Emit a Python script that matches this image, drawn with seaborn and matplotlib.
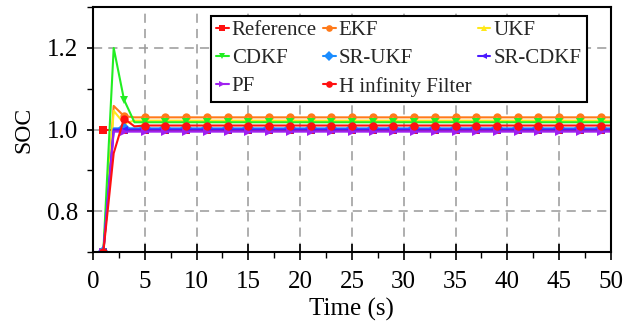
import matplotlib
matplotlib.use("Agg")
import matplotlib.pyplot as plt
import seaborn as sns
from matplotlib.ticker import MultipleLocator

# ---- Dados ----
tempo = list(range(1, 51))
referencia = [1.0] * 50
ekf = [0.70, 1.058, 1.033, 1.030] + [1.030] * 46
ukf = [0.70, 1.046, 1.015, 1.022] + [1.022] * 46
cdkf = [0.70, 1.200, 1.073, 1.018] + [1.018] * 46
sr_ukf = [0.70, 1.003, 1.003, 1.003] + [1.003] * 46
sr_cdkf = [0.70, 1.000, 1.000, 1.000] + [1.000] * 46
pf = [0.70, 0.995, 0.995, 0.995] + [0.995] * 46
h_inf = [0.70, 0.942, 1.027, 1.008] + [1.010] * 46

series = [
    ("Reference", referencia, "#ff1010", "s"),
    ("EKF", ekf, "#ff7a1a", "o"),
    ("UKF", ukf, "#ffe81a", "^"),
    ("CDKF", cdkf, "#22ee22", "v"),
    ("SR-UKF", sr_ukf, "#1a8cff", "D"),
    ("SR-CDKF", sr_cdkf, "#4a1aff", "<"),
    ("PF", pf, "#a020f0", ">"),
    ("H infinity Filter", h_inf, "#ff1010", "o"),
]

sns.set_theme(style="ticks")
plt.rcParams["font.family"] = ["Liberation Serif", "DejaVu Serif"]

fig = plt.figure(figsize=(6.24, 3.24), dpi=100)
ax = fig.add_axes([0.149, 0.222, 0.83, 0.756])

for nome, valores, cor, marcador in series:
    sns.lineplot(x=tempo, y=valores, ax=ax, color=cor, marker=marcador,
                 markersize=6, markeredgewidth=0, markevery=2, linewidth=1.5,
                 label=nome)

ax.set_xlim(0, 50)
ax.set_ylim(0.7, 1.3)
ax.xaxis.set_major_locator(MultipleLocator(5))
ax.xaxis.set_minor_locator(MultipleLocator(2.5))
ax.set_yticks([0.8, 1.0, 1.2])
ax.yaxis.set_minor_locator(MultipleLocator(0.1))
ax.set_yticklabels(["0.8", "1.0", "1.2"])

ax.grid(True, which="major", color="#999999", linestyle=(0, (6, 4)), linewidth=1.1)
ax.set_axisbelow(True)

for sp in ax.spines.values():
    sp.set_linewidth(1.5)
    sp.set_color("black")

ax.tick_params(axis="x", which="major", direction="inout", length=11, width=1.2, labelsize=18, colors="black", pad=8)
ax.tick_params(axis="x", which="minor", direction="out", length=4, width=1.0, colors="black")
ax.tick_params(axis="y", which="major", direction="out", length=4.5, width=1.2, labelsize=18, colors="black", pad=6)
ax.tick_params(axis="y", which="minor", direction="out", length=4.5, width=1.0, colors="black")

ax.set_xlabel("Time (s)", fontsize=18, color="black", labelpad=4)
ax.set_ylabel("SOC", fontsize=17, color="black", labelpad=9)

# ordem das linhas da legenda (preenchida por coluna)
h, l = ax.get_legend_handles_labels()
ordem = [0, 3, 6, 1, 4, 7, 2, 5]
leg = ax.legend([h[i] for i in ordem], [l[i] for i in ordem],
                loc="upper right", bbox_to_anchor=(0.953, 0.965), ncol=3,
                fontsize=15, frameon=True, fancybox=False, handlelength=0.6,
                handletextpad=0.15, columnspacing=0.3, labelspacing=0.4,
                borderpad=0.25, borderaxespad=0, markerscale=0.8)
leg.get_frame().set_edgecolor("black")
leg.get_frame().set_linewidth(1.5)
leg.get_frame().set_alpha(1)

fig.savefig("out.png", dpi=100)
